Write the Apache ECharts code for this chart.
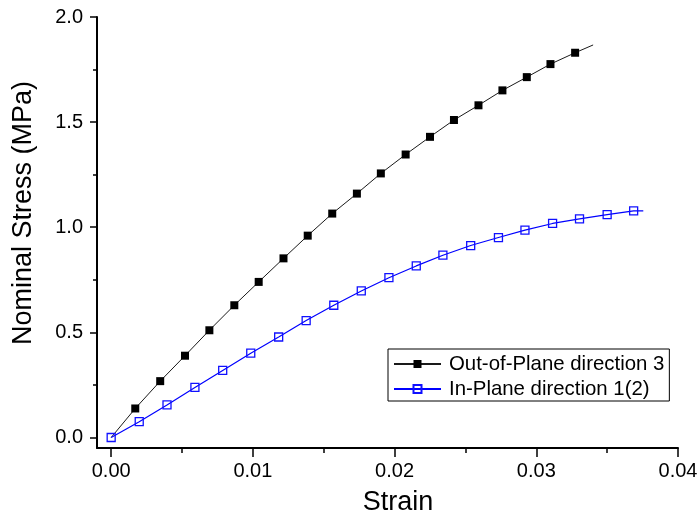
<!DOCTYPE html>
<html>
<head>
<meta charset="utf-8">
<title>Nominal Stress vs Strain</title>
<script src="https://cdn.jsdelivr.net/npm/echarts@6/dist/echarts.min.js"></script>
<style>
  html, body { margin: 0; padding: 0; background: #ffffff; }
  #chart { width: 700px; height: 517px; }
</style>
</head>
<body>
<div id="chart"></div>
<script>
// Out-of-plane loading (direction 3)
var outStrain = [0, 0.0017, 0.00346, 0.00521, 0.00693, 0.00869, 0.01041, 0.01216, 0.01387, 0.0156,
                 0.01734, 0.01903, 0.02078, 0.0225, 0.02419, 0.02592, 0.02761, 0.02933, 0.031, 0.03274, 0.03401];
var outStress = [0, 0.138, 0.268, 0.389, 0.510, 0.629, 0.740, 0.852, 0.960, 1.065,
                 1.160, 1.256, 1.346, 1.430, 1.510, 1.580, 1.651, 1.714, 1.776, 1.830, 1.867];

// In-plane loading (direction 1(2))
var inStrain = [0, 0.00198, 0.00394, 0.00591, 0.00787, 0.00985, 0.01182, 0.01376, 0.01571, 0.01765,
                0.0196, 0.02153, 0.02341, 0.02537, 0.02733, 0.0292, 0.03115, 0.03305, 0.035, 0.03687, 0.03755];
var inStress = [0, 0.075, 0.155, 0.238, 0.319, 0.401, 0.478, 0.556, 0.629, 0.697,
                0.760, 0.816, 0.867, 0.913, 0.951, 0.986, 1.018, 1.040, 1.060, 1.078, 1.078];

var seriesNames = ['Out-of-Plane direction 3', 'In-Plane direction 1(2)'];

var xMajorTicks = [0, 0.01, 0.02, 0.03, 0.04];
var xMinorTicks = [0.005, 0.015, 0.025, 0.035];
var yMajorTicks = [0, 0.5, 1.0, 1.5, 2.0];
var yMinorTicks = [0.25, 0.75, 1.25, 1.75];

var xTitle = 'Strain';
var yTitle = 'Nominal Stress (MPa)';

var FONT = '"Liberation Sans", Arial, Helvetica, sans-serif';

// pair up x/y values; the end-of-curve point (and the hidden origin on the upper curve) carry no marker
function buildPoints(xs, ys, hideFirst) {
  return xs.map(function (x, i) {
    var p = { value: [x, ys[i]] };
    if (i === xs.length - 1 || (hideFirst && i === 0)) { p.symbol = 'none'; }
    return p;
  });
}

function fmtX(v) { return v.toFixed(2); }
function fmtY(v) { return v.toFixed(1); }

var baseAxisLine = { show: true, onZero: false, lineStyle: { color: '#000', width: 2 } };

var chart = echarts.init(document.getElementById('chart'), null, { renderer: 'canvas' });

chart.setOption({
  backgroundColor: '#ffffff',
  animation: false,
  textStyle: { fontFamily: FONT },
  grid: { left: 97, right: 22, top: 17, bottom: 69, containLabel: false, outerBoundsMode: 'none' },
  xAxis: [
    {
      type: 'value', position: 'bottom', min: -0.001, max: 0.04,
      axisLine: baseAxisLine,
      axisTick: { show: true, inside: false, length: 9, customValues: xMajorTicks, lineStyle: { color: '#000', width: 1.5 } },
      axisLabel: { show: true, customValues: xMajorTicks, margin: 13, fontSize: 20, color: '#000', fontFamily: FONT, formatter: fmtX },
      splitLine: { show: false }
    },
    {
      type: 'value', position: 'bottom', min: -0.001, max: 0.04,
      axisLine: { show: false, onZero: false },
      axisTick: { show: true, inside: false, length: 5, customValues: xMinorTicks, lineStyle: { color: '#000', width: 1.5 } },
      axisLabel: { show: false },
      splitLine: { show: false }
    }
  ],
  yAxis: [
    {
      type: 'value', position: 'left', min: -0.05, max: 2.0,
      axisLine: baseAxisLine,
      axisTick: { show: true, inside: false, length: 7, customValues: yMajorTicks, lineStyle: { color: '#000', width: 1.5 } },
      axisLabel: { show: true, customValues: yMajorTicks, margin: 14, fontSize: 20, color: '#000', fontFamily: FONT, formatter: fmtY },
      splitLine: { show: false }
    },
    {
      type: 'value', position: 'left', min: -0.05, max: 2.0,
      axisLine: { show: false, onZero: false },
      axisTick: { show: true, inside: false, length: 4, customValues: yMinorTicks, lineStyle: { color: '#000', width: 1.5 } },
      axisLabel: { show: false },
      splitLine: { show: false }
    }
  ],
  legend: {
    orient: 'vertical',
    left: 388, top: 349,
    padding: [5, 5, 2, 5],
    itemGap: 5,
    itemWidth: 47,
    itemHeight: 10,
    borderColor: '#000', borderWidth: 1,
    backgroundColor: '#fff',
    textStyle: { fontSize: 20.4, color: '#000', fontFamily: FONT, padding: [0, 0, 0, 3] },
    data: seriesNames
  },
  graphic: [
    {
      type: 'text', x: 398, y: 503,
      style: { text: xTitle, font: '27px ' + FONT, fill: '#000', align: 'center', verticalAlign: 'middle' }
    },
    {
      type: 'text', x: 24, y: 213, rotation: Math.PI / 2,
      style: { text: yTitle, font: '27px ' + FONT, fill: '#000', align: 'center', verticalAlign: 'middle' }
    }
  ],
  series: [
    {
      name: seriesNames[0],
      type: 'line',
      xAxisIndex: 0, yAxisIndex: 0,
      data: buildPoints(outStrain, outStress, true),
      symbol: 'rect',
      symbolSize: 8,
      showAllSymbol: true,
      lineStyle: { color: '#1a1a1a', width: 1 },
      itemStyle: { color: '#000', borderWidth: 0 },
      emphasis: { disabled: true },
      z: 2
    },
    {
      name: seriesNames[1],
      type: 'line',
      xAxisIndex: 0, yAxisIndex: 0,
      data: buildPoints(inStrain, inStress, false),
      symbol: 'rect',
      symbolSize: 8,
      showAllSymbol: true,
      lineStyle: { color: '#0000ff', width: 1.2 },
      itemStyle: { color: 'rgba(255,255,255,0)', borderColor: '#1010ff', borderWidth: 1.3 },
      emphasis: { disabled: true },
      z: 3
    }
  ]
});
</script>
</body>
</html>
